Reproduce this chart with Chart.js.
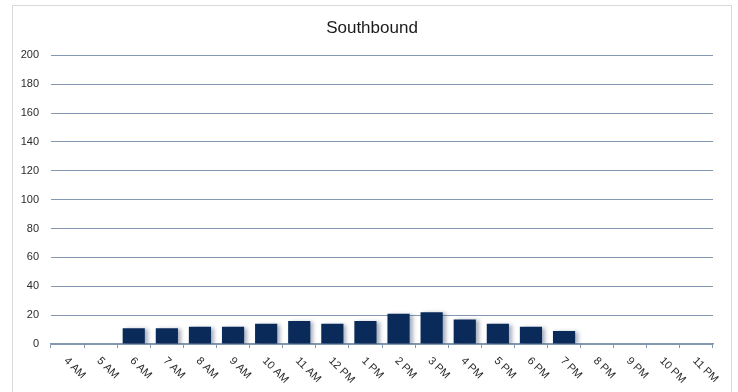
<!DOCTYPE html>
<html lang="en">
<head>
    <meta charset="UTF-8">
    <title>Southbound</title>
    <script src="https://cdn.jsdelivr.net/npm/chart.js"></script>
    <style>
        body { margin: 0; background: #fff; }
        .wrap { position: relative; width: 738px; height: 392px; }
        .frame {
            position: absolute; left: 12px; top: 5px; width: 720px; height: 400px;
            border: 1px solid #d9d9d9; box-sizing: border-box;
        }
        canvas { position: absolute; left: 0; top: 0; }
    </style>
</head>
<body>
    <div class="wrap">
        <div class="frame"></div>
        <canvas id="chart" width="738" height="392"></canvas>
    </div>

    <script>
        // data
        var hours = ['4 AM', '5 AM', '6 AM', '7 AM', '8 AM', '9 AM', '10 AM', '11 AM', '12 PM', '1 PM',
                     '2 PM', '3 PM', '4 PM', '5 PM', '6 PM', '7 PM', '8 PM', '9 PM', '10 PM', '11 PM'];
        var southbound = [0, 0, 11, 11, 12, 12, 14, 16, 14, 16,
                          21, 22, 17, 14, 12, 9, 0, 0, 0, 0];
        var yTicks = [0, 20, 40, 60, 80, 100, 120, 140, 160, 180, 200];

        var gridColor = '#8497b0';
        var textColor = '#2b2b2b';

        // soft shadow behind the bars
        var barShadow = {
            id: 'barShadow',
            beforeDatasetsDraw: function(chart) {
                var ctx = chart.ctx;
                ctx.save();
                ctx.shadowColor = 'rgba(60, 80, 110, 0.45)';
                ctx.shadowBlur = 4;
                ctx.shadowOffsetX = 3;
                ctx.shadowOffsetY = 1;
            },
            afterDatasetsDraw: function(chart) {
                chart.ctx.restore();
            }
        };

        // x labels turned 45 degrees clockwise
        var slantLabels = {
            id: 'slantLabels',
            afterDraw: function(chart) {
                var ctx = chart.ctx;
                var xs = chart.scales.x;
                ctx.save();
                ctx.fillStyle = textColor;
                ctx.font = '11px "Liberation Sans", Arial, sans-serif';
                ctx.textAlign = 'left';
                ctx.textBaseline = 'middle';
                hours.forEach(function(h, i) {
                    var x = xs.getPixelForValue(i);
                    ctx.save();
                    ctx.translate(x - 2, xs.top + 15);
                    ctx.rotate(Math.PI / 4);
                    ctx.fillText(h, 0, 0);
                    ctx.restore();
                });
                ctx.restore();
            }
        };

        new Chart(document.getElementById('chart').getContext('2d'), {
            type: 'bar',
            data: {
                labels: hours,
                datasets: [{
                    label: 'Southbound',
                    data: southbound,
                    backgroundColor: '#0a2a5a',
                    borderWidth: 0,
                    barPercentage: 0.67,
                    categoryPercentage: 1
                }]
            },
            options: {
                responsive: false,
                animation: false,
                layout: { padding: { left: 12, right: 6, top: 0, bottom: 0 } },
                plugins: {
                    legend: { display: false },
                    tooltip: { enabled: false },
                    title: {
                        display: true,
                        text: 'Southbound',
                        color: '#1a1a1a',
                        font: { family: '"Liberation Sans", Arial, sans-serif', size: 17, weight: 'normal' },
                        padding: { top: 18, bottom: 17 }
                    }
                },
                scales: {
                    x: {
                        grid: { offset: true, drawOnChartArea: false, drawTicks: true, tickLength: 4, color: gridColor },
                        border: { color: gridColor, width: 1.5 },
                        ticks: { display: false },
                        afterFit: function(scale) { scale.height = 48; }
                    },
                    y: {
                        min: 0,
                        max: 200,
                        afterBuildTicks: function(scale) {
                            scale.ticks = yTicks.map(function(v) { return { value: v }; });
                        },
                        grid: { color: gridColor, lineWidth: 1, drawTicks: false },
                        border: { display: false },
                        ticks: {
                            padding: 12,
                            color: textColor,
                            font: { family: '"Liberation Sans", Arial, sans-serif', size: 11 }
                        },
                        afterFit: function(scale) { scale.width = 39; }
                    },
                    pad: {
                        position: 'right',
                        display: true,
                        grid: { display: false },
                        border: { display: false },
                        ticks: { display: false },
                        afterFit: function(scale) { scale.width = 19; }
                    }
                }
            },
            plugins: [barShadow, slantLabels]
        });
    </script>
</body>
</html>
